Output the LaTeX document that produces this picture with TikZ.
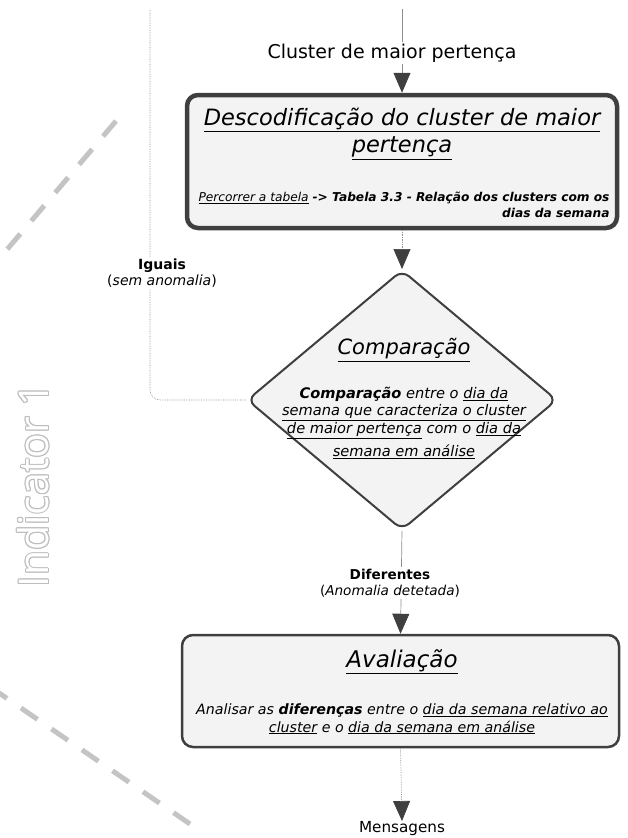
\documentclass[tikz,border=0pt]{standalone}
\usepackage{fontspec}
\setmainfont{DejaVu Sans}
\newfontfamily\indfont{Open Sans}
\usetikzlibrary{arrows.meta,shapes.geometric,calc}
\definecolor{boxline}{HTML}{3F3F3F}
\definecolor{boxfill}{HTML}{F3F3F3}
\definecolor{conn}{HTML}{8E8E8E}
\definecolor{dashgray}{HTML}{C4C4C4}
\definecolor{indgray}{HTML}{BDBDBD}
\newcommand{\undl}[1]{\underline{#1}}
\begin{document}
\begin{tikzpicture}[x=1pt,y=-1pt,
  procbox/.style={draw=boxline, fill=boxfill, rounded corners=11pt, inner sep=0pt},
  decision/.style={diamond, draw=boxline, fill=boxfill, line width=2pt, rounded corners=9pt, inner sep=0pt, minimum width=310pt, minimum height=260pt},
  link/.style={draw=conn, line width=0.7pt},
  dotlink/.style={link, densely dotted},
  tip/.style={-{Triangle[width=17pt,length=20pt,color=boxline]}},
  lbl/.style={fill=white, inner sep=2pt, align=center},
  bigdash/.style={draw=dashgray, line width=5pt, dash pattern=on 20pt off 17pt},
  bodytxt/.style={align=center, font=\fontsize{14.2}{17.5}\selectfont\itshape},
  indtxt/.style={rotate=90, font=\indfont\fontsize{41}{41}\selectfont},
]
\useasboundingbox (0,0) rectangle (627,838);

% background dashed guide lines
\draw[bigdash] (116,121) -- (-12,272);
\draw[bigdash] (190,824) -- (-14,684);

% Indicator label (outlined)
\foreach \dx/\dy [count=\k] in {1.1/0, -1.1/0, 0/1.1, 0/-1.1, 0.8/0.8, -0.8/0.8, 0.8/-0.8, -0.8/-0.8}
  \node[indtxt, text=indgray] (indc\k) at (33+\dx,485+\dy) {Indicator 1};
\node[indtxt, text=white] (ind) at (33,485) {Indicator 1};

% main shapes
\node[procbox, line width=4.5pt, minimum width=430pt, minimum height=133pt] (desc) at (402,161.5) {};
\node[decision] (comp) at (402,400) {};
\node[procbox, line width=2.5pt, minimum width=437pt, minimum height=112pt] (aval) at (400.5,691) {};
\node[inner sep=0pt, anchor=north, font=\fontsize{15.2}{18}\selectfont] (msg) at (402,821) {Mensagens};

\coordinate (ctop) at (402,9);
\coordinate (ltop) at (150,9);

% connectors
\draw[link, tip] (ctop) -- (desc.north);
\draw[dotlink, tip] (desc.south) -- (comp.north);
\draw[dotlink, rounded corners=10pt] (comp.west) -| (ltop);
\draw[link, tip] (comp.south) -- (aval.north);
\draw[dotlink, tip] (aval.south) -- (msg.north);

% labels on connectors
\node[lbl, font=\fontsize{19}{22}\selectfont] (clab) at (392,53) {Cluster de maior pertença};
\node[lbl, font=\fontsize{14}{16.5}\selectfont] (iguais) at (162,273) {\textbf{Iguais}\\(\textit{sem anomalia})};
\node[lbl, font=\fontsize{13.6}{16.5}\selectfont] (difer) at (390,583) {\textbf{Diferentes}\\(\textit{Anomalia detetada})};

% texts inside the shapes
\node[align=center, font=\fontsize{22.5}{27}\selectfont\itshape] (desct) at (402,134) {\undl{Descodificação do cluster de maior}\\\undl{pertença}};
\node[align=right, font=\fontsize{12.2}{16}\selectfont\itshape] (descs) at (404,205) {\undl{Percorrer a tabela} \textbf{-> Tabela 3.3 - Relação dos clusters com os}\\\textbf{dias da semana}};

\node[align=center, font=\fontsize{21}{25}\selectfont\itshape] (compt) at (404,350) {\undl{Comparação}};
\node[bodytxt, font=\fontsize{14.6}{17.5}\selectfont\itshape] (compb) at (404,423) {\textbf{Comparação} entre o \undl{dia da}\\\undl{semana que caracteriza o cluster}\\\undl{de maior pertença} com o \undl{dia da}\\[6pt]\undl{semana em análise}};

\node[align=center, font=\fontsize{23}{27}\selectfont\itshape] (avalt) at (402,662) {\undl{Avaliação}};
\node[bodytxt] (avalb) at (402,719) {Analisar as \textbf{diferenças} entre o \undl{dia da semana relativo ao}\\\undl{cluster} e o \undl{dia da semana em análise}};
\end{tikzpicture}
\end{document}
